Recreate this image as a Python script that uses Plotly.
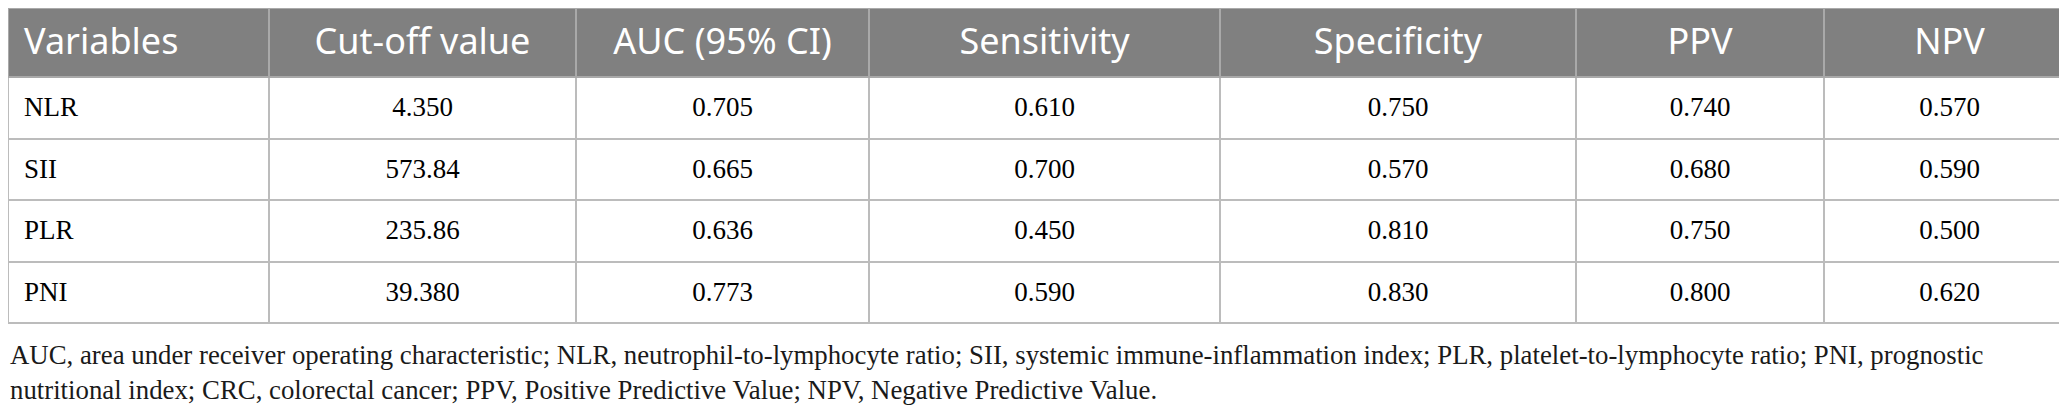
import plotly.graph_objects as go

# table content
headers = ["Variables", "Cut-off value", "AUC (95% CI)", "Sensitivity", "Specificity", "PPV", "NPV"]
variables = ["NLR", "SII", "PLR", "PNI"]
cutoff = ["4.350", "573.84", "235.86", "39.380"]
auc = ["0.705", "0.665", "0.636", "0.773"]
sensitivity = ["0.610", "0.700", "0.450", "0.590"]
specificity = ["0.750", "0.570", "0.810", "0.830"]
ppv = ["0.740", "0.680", "0.750", "0.800"]
npv = ["0.570", "0.590", "0.500", "0.620"]

footnote_lines = [
    "AUC, area under receiver operating characteristic; NLR, neutrophil-to-lymphocyte ratio; "
    "SII, systemic immune-inflammation index; PLR, platelet-to-lymphocyte ratio; PNI, prognostic",
    "nutritional index; CRC, colorectal cancer; PPV, Positive Predictive Value; NPV, Negative Predictive Value.",
]

W, H = 2067, 416
col_widths = [261, 307, 293, 351, 356, 248, 251]
top = 0          # table top edge in px
text_shift = 11  # plotly puts text at the top of a cell, push it down a bit
indent = 8       # extra left indent of first column text

columns = [variables, cutoff, auc, sensitivity, specificity, ppv, npv]
nrows = len(variables)

fig = go.Figure()

# grid + fills only
fig.add_trace(go.Table(
    domain=dict(x=[0, 1], y=[0, 1 - top / H]),
    columnwidth=col_widths,
    header=dict(
        values=[""] * len(headers),
        fill_color="#808080",
        line=dict(color="#a9a9a9", width=2),
        height=69,
    ),
    cells=dict(
        values=[[""] * nrows for _ in columns],
        fill_color="white",
        line=dict(color="#bcbcbc", width=2),
        height=61.5,
    ),
))

# text layer, shifted down so the text sits in the middle of the cells
fig.add_trace(go.Table(
    domain=dict(x=[0, 1], y=[0, 1 - (top + text_shift) / H]),
    columnwidth=[indent, col_widths[0] - indent] + col_widths[1:],
    header=dict(
        values=[""] + headers,
        fill_color="rgba(0,0,0,0)",
        line=dict(width=0, color="rgba(0,0,0,0)"),
        font=dict(family="Noto Sans", size=36, color="white"),
        align=["left", "left"] + ["center"] * 6,
        height=69,
    ),
    cells=dict(
        values=[[""] * nrows] + columns,
        fill_color="rgba(0,0,0,0)",
        line=dict(width=0, color="rgba(0,0,0,0)"),
        font=dict(family="Liberation Serif", size=27, color="black"),
        align=["left", "left"] + ["center"] * 6,
        height=61.5,
    ),
))

for i, line in enumerate(footnote_lines):
    fig.add_annotation(
        text=line, xref="paper", yref="paper", x=0, y=1 - (347 + 35 * i) / H,
        xanchor="left", yanchor="middle", align="left", showarrow=False,
        font=dict(family="Liberation Serif", size=26.8, color="#1a1a1a"),
    )

fig.update_layout(width=W, height=H, margin=dict(l=0, r=0, t=0, b=0),
                  paper_bgcolor="white")

fig.write_html("out.html")
